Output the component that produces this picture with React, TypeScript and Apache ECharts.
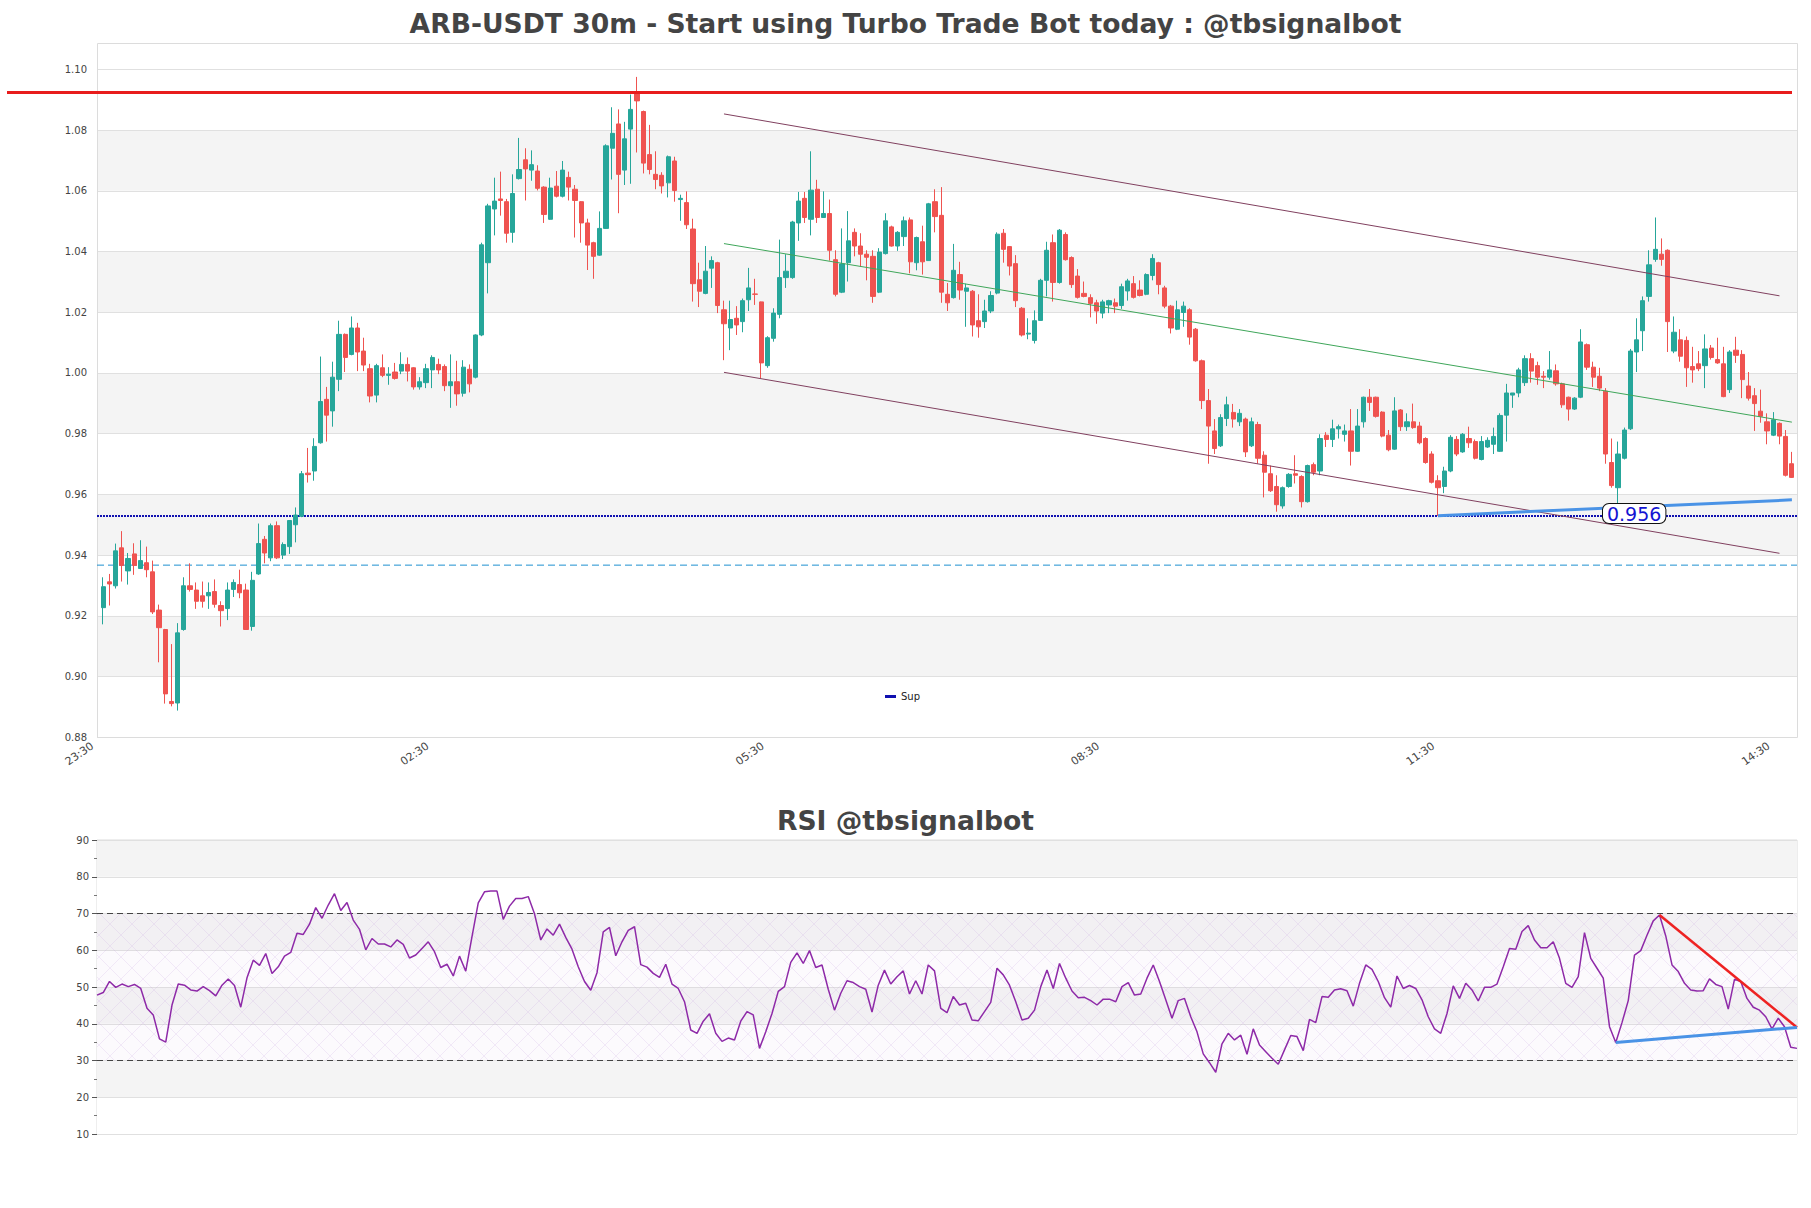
import React, { useEffect, useRef } from 'react';
import * as echarts from 'echarts';

// ---------- DATA ----------
const opens = [
  0.9227, 0.9312, 0.9299, 0.9424, 0.9348, 0.9404, 0.9356, 0.9375, 0.9345, 0.9219,
  0.9155, 0.8918, 0.8913, 0.9155, 0.9299, 0.9285, 0.9266, 0.9266, 0.9280, 0.9234,
  0.9224, 0.9287, 0.9303, 0.9285, 0.9165, 0.9338, 0.9452, 0.9391, 0.9497, 0.9400,
  0.9428, 0.9500, 0.9528, 0.9670, 0.9677, 0.9770, 0.9913, 0.9875, 0.9979, 1.0127,
  1.0061, 1.0148, 1.0072, 1.0014, 0.9927, 1.0017, 0.9992, 1.0003, 1.0006, 1.0028,
  1.0017, 0.9954, 0.9968, 1.0010, 1.0028, 1.0021, 0.9958, 0.9971, 0.9933, 1.0012,
  0.9986, 1.0125, 1.0363, 1.0540, 1.0573, 1.0564, 1.0463, 1.0640, 1.0702, 1.0668,
  1.0665, 1.0612, 1.0506, 1.0615, 1.0582, 1.0644, 1.0605, 1.0564, 1.0494, 1.0429,
  1.0388, 1.0476, 1.0740, 1.0820, 1.0668, 1.0803, 1.0920, 1.0861, 1.0719, 1.0654,
  1.0651, 1.0626, 1.0698, 1.0571, 1.0561, 1.0474, 1.0307, 1.0262, 1.0345, 1.0363,
  1.0208, 1.0148, 1.0180, 1.0169, 1.0241, 1.0260, 1.0234, 1.0024, 1.0114, 1.0193,
  1.0314, 1.0314, 1.0494, 1.0575, 1.0506, 1.0605, 1.0512, 1.0525, 1.0373, 1.0266,
  1.0363, 1.0463, 1.0418, 1.0391, 1.0384, 1.0266, 1.0393, 1.0481, 1.0418, 1.0449,
  1.0504, 1.0363, 1.0432, 1.0370, 1.0564, 1.0519, 1.0259, 1.0248, 1.0324, 1.0269,
  1.0269, 1.0172, 1.0169, 1.0204, 1.0263, 1.0460, 1.0416, 1.0360, 1.0213, 1.0128,
  1.0107, 1.0173, 1.0305, 1.0429, 1.0298, 1.0456, 1.0380, 1.0319, 1.0262, 1.0248,
  1.0231, 1.0197, 1.0224, 1.0231, 1.0222, 1.0270, 1.0294, 1.0273, 1.0259, 1.0321,
  1.0363, 1.0280, 1.0220, 1.0144, 1.0199, 1.0208, 1.0144, 1.0040, 0.9909, 0.9809,
  0.9760, 0.9850, 0.9870, 0.9839, 0.9848, 0.9760, 0.9830, 0.9729, 0.9668, 0.9626,
  0.9562, 0.9626, 0.9668, 0.9659, 0.9576, 0.9698, 0.9677, 0.9795, 0.9781, 0.9816,
  0.9798, 0.9809, 0.9742, 0.9839, 0.9920, 0.9920, 0.9871, 0.9795, 0.9749, 0.9878,
  0.9823, 0.9839, 0.9825, 0.9784, 0.9733, 0.9645, 0.9626, 0.9677, 0.9781, 0.9740,
  0.9784, 0.9774, 0.9715, 0.9756, 0.9765, 0.9742, 0.9861, 0.9927, 0.9934, 0.9968,
  1.0047, 1.0024, 0.9989, 0.9986, 1.0007, 0.9964, 0.9920, 0.9881, 0.9920, 1.0093,
  1.0019, 0.9989, 0.9940, 0.9705, 0.9622, 0.9719, 0.9816, 1.0069, 1.0139, 1.0252,
  1.0374, 1.0391, 1.0404, 1.0072, 1.0109, 1.0107, 1.0021, 1.0030, 1.0024, 1.0082,
  1.0044, 1.0030, 0.9945, 1.0075, 1.0061, 0.9957, 0.9925, 0.9874, 0.9839, 0.9795,
  0.9834, 0.9791, 0.9701,
];
const closes = [
  0.9296, 0.9305, 0.9414, 0.9366, 0.9389, 0.9366, 0.9382, 0.9352, 0.9213, 0.9161,
  0.8943, 0.8911, 0.9144, 0.9299, 0.9287, 0.9248, 0.9248, 0.9277, 0.9238, 0.9217,
  0.9285, 0.9310, 0.9276, 0.9155, 0.9317, 0.9438, 0.9407, 0.9497, 0.9391, 0.9435,
  0.9514, 0.9532, 0.9668, 0.9665, 0.9758, 0.9906, 0.9861, 0.9986, 1.0127, 1.0051,
  1.0148, 1.0069, 1.0026, 0.9924, 1.0024, 0.9992, 0.9996, 0.9982, 1.0028, 1.0006,
  0.9954, 0.9971, 1.0014, 1.0051, 1.0010, 0.9958, 0.9971, 0.9931, 1.0019, 0.9964,
  1.0125, 1.0422, 1.0550, 1.0566, 1.0568, 1.0460, 1.0591, 1.0670, 1.0672, 1.0686,
  1.0608, 1.0522, 1.0609, 1.0582, 1.0668, 1.0612, 1.0568, 1.0494, 1.0421, 1.0384,
  1.0476, 1.0748, 1.0789, 1.0654, 1.0771, 1.0868, 1.0896, 1.0691, 1.0670, 1.0637,
  1.0616, 1.0712, 1.0601, 1.0575, 1.0488, 1.0294, 1.0269, 1.0335, 1.0370, 1.0222,
  1.0162, 1.0176, 1.0158, 1.0238, 1.0280, 1.0259, 1.0033, 1.0116, 1.0197, 1.0314,
  1.0335, 1.0497, 1.0566, 1.0512, 1.0602, 1.0512, 1.0525, 1.0404, 1.0259, 1.0359,
  1.0435, 1.0418, 1.0391, 1.0381, 1.0252, 1.0398, 1.0501, 1.0418, 1.0463, 1.0501,
  1.0366, 1.0446, 1.0366, 1.0557, 1.0515, 1.0266, 1.0231, 1.0338, 1.0273, 1.0280,
  1.0158, 1.0152, 1.0204, 1.0255, 1.0457, 1.0407, 1.0352, 1.0238, 1.0125, 1.0131,
  1.0172, 1.0305, 1.0404, 1.0298, 1.0470, 1.0373, 1.0291, 1.0249, 1.0252, 1.0229,
  1.0204, 1.0234, 1.0238, 1.0220, 1.0284, 1.0303, 1.0249, 1.0255, 1.0324, 1.0377,
  1.0291, 1.0220, 1.0148, 1.0208, 1.0220, 1.0118, 1.0040, 0.9909, 0.9825, 0.9751,
  0.9853, 0.9895, 0.9848, 0.9867, 0.9740, 0.9839, 0.9719, 0.9673, 0.9612, 0.9566,
  0.9622, 0.9666, 0.9663, 0.9576, 0.9695, 0.9673, 0.9784, 0.9781, 0.9816, 0.9823,
  0.9809, 0.9742, 0.9825, 0.9920, 0.9903, 0.9857, 0.9792, 0.9747, 0.9875, 0.9823,
  0.9839, 0.9820, 0.9770, 0.9705, 0.9640, 0.9622, 0.9677, 0.9788, 0.9733, 0.9798,
  0.9770, 0.9719, 0.9774, 0.9778, 0.9791, 0.9860, 0.9934, 0.9934, 1.0010, 1.0047,
  1.0006, 0.9986, 0.9986, 1.0010, 0.9964, 0.9895, 0.9881, 0.9917, 1.0102, 1.0019,
  0.9986, 0.9950, 0.9733, 0.9629, 0.9733, 0.9812, 1.0072, 1.0109, 1.0238, 1.0356,
  1.0407, 1.0374, 1.0169, 1.0134, 1.0055, 1.0017, 1.0010, 1.0014, 1.0079, 1.0051,
  1.0033, 0.9922, 1.0069, 1.0058, 0.9978, 0.9917, 0.9899, 0.9857, 0.9809, 0.9846,
  0.9792, 0.9663, 0.9656,
];
const lows = [
  0.9172, 0.9234, 0.9290, 0.9313, 0.9303, 0.9335, 0.9355, 0.9327, 0.9206, 0.9047,
  0.8911, 0.8902, 0.8888, 0.9151, 0.9280, 0.9223, 0.9227, 0.9223, 0.9227, 0.9165,
  0.9186, 0.9262, 0.9258, 0.9155, 0.9151, 0.9335, 0.9373, 0.9380, 0.9387, 0.9387,
  0.9404, 0.9442, 0.9525, 0.9639, 0.9645, 0.9767, 0.9774, 0.9823, 0.9940, 1.0003,
  1.0058, 1.0006, 1.0006, 0.9903, 0.9903, 0.9986, 0.9961, 0.9978, 0.9996, 0.9972,
  0.9945, 0.9945, 0.9950, 0.9950, 0.9996, 0.9940, 0.9885, 0.9892, 0.9922, 0.9936,
  0.9982, 1.0121, 1.0262, 1.0453, 1.0518, 1.0429, 1.0429, 1.0637, 1.0568, 1.0633,
  1.0601, 1.0494, 1.0504, 1.0578, 1.0578, 1.0568, 1.0446, 1.0429, 1.0339, 1.0310,
  1.0386, 1.0474, 1.0637, 1.0526, 1.0619, 1.0623, 1.0726, 1.0657, 1.0654, 1.0605,
  1.0591, 1.0578, 1.0564, 1.0501, 1.0474, 1.0235, 1.0217, 1.0259, 1.0280, 1.0197,
  1.0042, 1.0075, 1.0125, 1.0134, 1.0204, 1.0224, 0.9982, 1.0017, 1.0103, 1.0180,
  1.0280, 1.0310, 1.0435, 1.0494, 1.0453, 1.0494, 1.0512, 1.0370, 1.0252, 1.0263,
  1.0301, 1.0384, 1.0349, 1.0305, 1.0231, 1.0263, 1.0390, 1.0416, 1.0402, 1.0418,
  1.0328, 1.0338, 1.0324, 1.0370, 1.0463, 1.0231, 1.0204, 1.0245, 1.0241, 1.0152,
  1.0120, 1.0116, 1.0148, 1.0197, 1.0259, 1.0363, 1.0321, 1.0217, 1.0120, 1.0111,
  1.0097, 1.0172, 1.0252, 1.0235, 1.0294, 1.0370, 1.0280, 1.0245, 1.0249, 1.0183,
  1.0162, 1.0180, 1.0197, 1.0197, 1.0211, 1.0238, 1.0245, 1.0252, 1.0256, 1.0305,
  1.0259, 1.0213, 1.0130, 1.0141, 1.0152, 1.0093, 1.0037, 0.9881, 0.9701, 0.9733,
  0.9756, 0.9825, 0.9820, 0.9825, 0.9723, 0.9756, 0.9701, 0.9590, 0.9608, 0.9543,
  0.9553, 0.9622, 0.9636, 0.9557, 0.9573, 0.9663, 0.9663, 0.9756, 0.9756, 0.9784,
  0.9774, 0.9695, 0.9740, 0.9820, 0.9875, 0.9853, 0.9788, 0.9742, 0.9747, 0.9809,
  0.9809, 0.9816, 0.9765, 0.9701, 0.9636, 0.9529, 0.9604, 0.9673, 0.9726, 0.9737,
  0.9753, 0.9715, 0.9712, 0.9753, 0.9733, 0.9740, 0.9774, 0.9885, 0.9920, 0.9957,
  0.9968, 0.9961, 0.9950, 0.9978, 0.9958, 0.9885, 0.9843, 0.9878, 0.9917, 1.0010,
  0.9954, 0.9940, 0.9701, 0.9622, 0.9566, 0.9715, 0.9812, 1.0003, 1.0072, 1.0235,
  1.0366, 1.0353, 1.0069, 1.0065, 1.0037, 0.9954, 0.9968, 1.0006, 0.9950, 1.0044,
  1.0030, 0.9920, 0.9934, 1.0033, 0.9917, 0.9909, 0.9809, 0.9836, 0.9765, 0.9792,
  0.9765, 0.9659, 0.9654,
];
const highs = [
  0.9327, 0.9338, 0.9438, 0.9479, 0.9407, 0.9439, 0.9449, 0.9428, 0.9382, 0.9237,
  0.9157, 0.9107, 0.9176, 0.9327, 0.9373, 0.9310, 0.9313, 0.9310, 0.9320, 0.9248,
  0.9310, 0.9320, 0.9352, 0.9306, 0.9345, 0.9504, 0.9463, 0.9504, 0.9511, 0.9442,
  0.9514, 0.9557, 0.9677, 0.9753, 0.9785, 1.0054, 0.9954, 1.0037, 1.0172, 1.0130,
  1.0186, 1.0165, 1.0116, 1.0030, 1.0030, 1.0061, 1.0019, 1.0033, 1.0068, 1.0051,
  1.0019, 0.9986, 1.0030, 1.0058, 1.0047, 1.0028, 1.0061, 1.0040, 1.0042, 1.0028,
  1.0127, 1.0429, 1.0557, 1.0643, 1.0663, 1.0573, 1.0654, 1.0774, 1.0740, 1.0733,
  1.0684, 1.0615, 1.0643, 1.0665, 1.0698, 1.0663, 1.0619, 1.0566, 1.0508, 1.0432,
  1.0532, 1.0753, 1.0875, 1.0868, 1.0827, 1.0917, 1.0975, 1.0864, 1.0817, 1.0730,
  1.0661, 1.0716, 1.0712, 1.0587, 1.0598, 1.0508, 1.0363, 1.0418, 1.0384, 1.0366,
  1.0238, 1.0238, 1.0220, 1.0245, 1.0346, 1.0310, 1.0235, 1.0121, 1.0213, 1.0439,
  1.0391, 1.0501, 1.0596, 1.0596, 1.0730, 1.0636, 1.0598, 1.0571, 1.0404, 1.0476,
  1.0533, 1.0476, 1.0460, 1.0404, 1.0404, 1.0411, 1.0526, 1.0485, 1.0467, 1.0515,
  1.0512, 1.0449, 1.0485, 1.0560, 1.0605, 1.0612, 1.0296, 1.0425, 1.0366, 1.0294,
  1.0273, 1.0259, 1.0241, 1.0269, 1.0463, 1.0474, 1.0418, 1.0388, 1.0217, 1.0180,
  1.0206, 1.0310, 1.0432, 1.0456, 1.0474, 1.0463, 1.0384, 1.0342, 1.0301, 1.0259,
  1.0241, 1.0241, 1.0241, 1.0245, 1.0294, 1.0310, 1.0319, 1.0305, 1.0328, 1.0391,
  1.0366, 1.0287, 1.0224, 1.0238, 1.0235, 1.0213, 1.0148, 1.0044, 0.9947, 0.9848,
  0.9864, 0.9922, 0.9898, 0.9881, 0.9853, 0.9853, 0.9839, 0.9742, 0.9695, 0.9663,
  0.9626, 0.9670, 0.9729, 0.9663, 0.9698, 0.9705, 0.9798, 0.9805, 0.9846, 0.9830,
  0.9830, 0.9881, 0.9881, 0.9922, 0.9947, 0.9922, 0.9874, 0.9812, 0.9920, 0.9881,
  0.9867, 0.9899, 0.9839, 0.9788, 0.9742, 0.9663, 0.9691, 0.9795, 0.9792, 0.9802,
  0.9823, 0.9781, 0.9792, 0.9788, 0.9820, 0.9867, 0.9964, 0.9934, 1.0017, 1.0058,
  1.0065, 1.0037, 1.0006, 1.0072, 1.0028, 0.9968, 0.9922, 0.9920, 1.0144, 1.0097,
  1.0037, 1.0017, 0.9950, 0.9784, 0.9774, 0.9820, 1.0079, 1.0180, 1.0252, 1.0404,
  1.0512, 1.0443, 1.0407, 1.0186, 1.0144, 1.0120, 1.0086, 1.0072, 1.0127, 1.0092,
  1.0116, 1.0086, 1.0075, 1.0119, 1.0075, 1.0003, 0.9950, 0.9945, 0.9867, 0.9871,
  0.9837, 0.9812, 0.9740,
];

const rsiValues = [
  47.8, 48.5, 51.5, 49.9, 50.8, 50.1, 50.7, 49.6, 44.2, 42.4,
  35.9, 35.0, 45.1, 50.8, 50.5, 49.2, 48.9, 50.1, 49.0, 47.6,
  50.5, 52.2, 50.4, 44.5, 52.5, 57.3, 55.9, 59.1, 53.7, 55.5,
  58.4, 59.4, 64.6, 64.3, 67.1, 71.6, 68.7, 72.3, 75.4, 70.8,
  73.0, 68.2, 65.7, 60.1, 63.2, 61.7, 61.7, 60.9, 62.8, 61.6,
  57.9, 58.7, 60.5, 62.3, 59.6, 55.3, 56.2, 53.0, 58.4, 54.3,
  63.7, 72.9, 75.9, 76.1, 76.1, 68.4, 72.0, 74.1, 74.1, 74.6,
  69.9, 62.8, 65.8, 64.1, 67.1, 63.5, 60.3, 55.5, 51.5, 49.1,
  53.9, 65.0, 66.2, 58.5, 62.3, 65.4, 66.4, 56.1, 55.4, 53.7,
  52.6, 56.2, 50.8, 49.6, 46.0, 38.3, 37.4, 40.7, 42.7, 37.4,
  35.2, 36.1, 35.6, 40.7, 43.3, 42.4, 33.3, 37.8, 42.8, 48.8,
  50.1, 56.7, 59.3, 56.4, 59.9, 55.3, 56.0, 49.4, 43.7, 48.3,
  51.7, 51.2, 50.1, 49.4, 43.2, 50.5, 54.6, 50.8, 52.8, 54.4,
  48.1, 51.7, 48.1, 56.0, 54.4, 44.2, 43.0, 47.4, 45.1,
  45.6, 41.0, 40.8, 43.3, 45.8, 55.1, 53.3, 50.5, 46.0, 41.0,
  41.5, 43.7, 50.1, 54.6, 49.6, 56.4, 52.4, 48.9, 47.1, 47.2,
  46.3, 45.1, 46.7, 46.7, 46.0, 50.1, 51.2, 47.8, 48.1, 52.4,
  56.0, 51.5, 46.5, 41.5, 46.3, 46.9, 41.9, 37.8, 31.8, 29.4,
  26.8, 34.5, 37.4, 35.6, 36.9, 31.7, 38.6, 34.2, 32.4, 30.6,
  29.0, 32.9, 36.8, 36.5, 32.7, 41.2, 40.3, 47.4, 47.2, 49.2,
  49.5, 49.0, 44.8, 51.0, 56.0, 54.8, 51.5, 47.1, 44.5, 53.0,
  49.6, 50.4, 49.6, 46.5, 41.9, 38.6, 37.4, 42.8, 50.3, 46.9,
  51.0, 49.2, 46.2, 49.9, 49.9, 50.8, 55.5, 60.5, 60.3, 65.1,
  66.7, 62.8, 60.7, 60.7, 62.3, 57.8, 51.0, 49.9, 52.8, 64.8,
  57.8, 55.1, 52.4, 39.2, 34.9, 40.3, 46.3, 58.7, 59.9, 64.1,
  68.0, 69.6, 63.9, 56.0, 54.2, 51.0, 49.2, 48.9, 49.0, 52.2,
  50.7, 50.1, 44.0, 52.1, 51.5, 46.9, 44.5, 43.7, 41.9, 38.6,
  41.5, 39.2, 33.6, 33.3,
];

const timeTickLabels = ['23:30', '02:30', '05:30', '08:30', '11:30', '14:30'];
const candlesPerTick = 54;

const resistanceLevel = 1.0924;
const supLevel = 0.9529;
const dashLevel = 0.9367;
const channelUpper = [[100, 1.0853], [270, 1.0254]];
const channelLower = [[100, 1.0002], [270, 0.9406]];
const channelMid = [[100, 1.0426], [272, 0.9838]];
const supportTrend = [[215, 0.9530], [272, 0.9582]];
const supportLabelPos = [246.6, 0.9537];
const supportLabelText = '0.956';
const rsiDownTrend = [[250, 69.6], [272, 39.0]];
const rsiUpTrend = [[243, 34.9], [272, 39.0]];
const rsiBands = [30, 70];

const priceTicks = { min: 0.88, max: 1.10, step: 0.02 };
const rsiTicks = { min: 10, max: 90, step: 10 };

const FONT = 'DejaVu Sans';

function makeHatch(): HTMLCanvasElement {
  const c = document.createElement('canvas');
  c.width = 22;
  c.height = 22;
  const g = c.getContext('2d') as CanvasRenderingContext2D;
  g.fillStyle = 'rgba(210,190,230,0.07)';
  g.fillRect(0, 0, 22, 22);
  g.strokeStyle = 'rgba(190,150,215,0.30)';
  g.lineWidth = 0.6;
  g.beginPath();
  g.moveTo(0, 0);
  g.lineTo(22, 22);
  g.moveTo(22, 0);
  g.lineTo(0, 22);
  g.stroke();
  return c;
}

export default function App() {
  const ref = useRef<HTMLDivElement>(null);

  useEffect(() => {
    document.body.style.margin = '0';
    if (!ref.current) return;
    const chart = echarts.init(ref.current, undefined, { renderer: 'svg' });

    const candleData = opens.map((o, i) => [o, closes[i], lows[i], highs[i]]);
    const cats = opens.map((_, i) => String(i));
    const rsiCats = rsiValues.map((_, i) => String(i));

    const mainTop = 69.3;
    const mainHeight = 668;
    const rsiTop = 840;
    const rsiHeight = 294;

    const option: any = {
      animation: false,
      backgroundColor: '#ffffff',
      textStyle: { fontFamily: FONT },
      title: [
        {
          text: 'ARB-USDT 30m - Start using Turbo Trade Bot today : @tbsignalbot',
          left: 'center',
          top: 5,
          textStyle: { fontFamily: FONT, fontSize: 26.6, fontWeight: 'bold', color: '#444444' },
        },
        {
          text: 'RSI @tbsignalbot',
          left: 'center',
          top: 802,
          textStyle: { fontFamily: FONT, fontSize: 26.6, fontWeight: 'bold', color: '#444444' },
        },
      ],
      legend: {
        data: ['Sup'],
        left: 880,
        top: 686.5,
        itemWidth: 11,
        itemHeight: 3,
        itemGap: 10,
        icon: 'rect',
        textStyle: { fontSize: 10, color: '#222', fontFamily: FONT },
      },
      grid: [
        { left: 97, top: mainTop, width: 1700, height: mainHeight, show: false },
        { left: 100, top: mainTop, width: 1695, height: mainHeight, show: false },
        { left: 97, top: rsiTop, width: 1700, height: rsiHeight, show: true, borderColor: '#dcdcdc', borderWidth: 1, backgroundColor: 'transparent' },
      ],
      xAxis: [
        { type: 'value', gridIndex: 0, min: 0, max: 1, show: false },
        {
          type: 'category',
          gridIndex: 1,
          data: cats,
          boundaryGap: true,
          axisLine: { show: false },
          axisTick: { show: false },
          splitLine: { show: false },
          axisLabel: {
            interval: candlesPerTick - 1,
            rotate: 35,
            fontSize: 11,
            color: '#444',
            margin: 0,
            padding: [0, 13, 0, 0],
            fontFamily: FONT,
            formatter: (_v: string, idx: number) => timeTickLabels[Math.round(idx / candlesPerTick)] || '',
          },
        },
        {
          type: 'category',
          gridIndex: 2,
          data: rsiCats,
          boundaryGap: false,
          axisLine: { show: false },
          axisTick: { show: false },
          axisLabel: { show: false },
          splitLine: { show: false },
        },
      ],
      yAxis: [
        {
          type: 'value',
          gridIndex: 0,
          min: priceTicks.min,
          max: priceTicks.max,
          interval: priceTicks.step,
          axisLine: { show: false },
          axisTick: { show: false },
          axisLabel: { fontSize: 10, color: '#444', margin: 10, fontFamily: FONT, formatter: (v: number) => v.toFixed(2) },
          splitLine: { show: true, lineStyle: { color: '#e0e0e0', width: 1 } },
          splitArea: { show: true, areaStyle: { color: ['#ffffff', '#f4f4f4'] } },
        },
        {
          type: 'value',
          gridIndex: 1,
          min: priceTicks.min,
          max: priceTicks.max,
          show: false,
          splitLine: { show: false },
        },
        {
          type: 'value',
          gridIndex: 2,
          min: rsiTicks.min,
          max: rsiTicks.max,
          interval: rsiTicks.step,
          axisLine: { show: false },
          axisTick: { show: true, length: 5, lineStyle: { color: '#555' } },
          minorTick: { show: true, splitNumber: 2, length: 3, lineStyle: { color: '#777' } },
          axisLabel: { fontSize: 10, color: '#444', margin: 8, fontFamily: FONT },
          splitLine: { show: true, lineStyle: { color: '#e0e0e0', width: 1 } },
          splitArea: { show: true, areaStyle: { color: ['#ffffff', '#f4f4f4'] } },
        },
      ],
      series: [
        {
          name: 'Sup',
          type: 'line',
          xAxisIndex: 0,
          yAxisIndex: 0,
          data: [[0, supLevel], [1, supLevel]],
          symbol: 'none',
          color: '#1010b0',
          lineStyle: { color: '#1010b0', width: 2, type: [2, 1] },
          z: 3,
        },
        {
          name: 'dashLevel',
          type: 'line',
          xAxisIndex: 0,
          yAxisIndex: 0,
          data: [[0, dashLevel], [1, dashLevel]],
          symbol: 'none',
          lineStyle: { color: '#1e90d0', width: 1, type: [7, 4] },
          z: 3,
        },
        {
          name: 'ohlc',
          type: 'candlestick',
          xAxisIndex: 1,
          yAxisIndex: 1,
          data: candleData,
          barWidth: 4.7,
          itemStyle: {
            color: '#26a69a',
            color0: '#ef5350',
            borderColor: '#26a69a',
            borderColor0: '#ef5350',
            borderWidth: 1,
          },
          z: 4,
        },
        {
          name: 'upper',
          type: 'line',
          xAxisIndex: 1,
          yAxisIndex: 1,
          data: channelUpper,
          symbol: 'none',
          lineStyle: { color: '#80405f', width: 1 },
          z: 5,
        },
        {
          name: 'lower',
          type: 'line',
          xAxisIndex: 1,
          yAxisIndex: 1,
          data: channelLower,
          symbol: 'none',
          lineStyle: { color: '#80405f', width: 1 },
          z: 5,
        },
        {
          name: 'mid',
          type: 'line',
          xAxisIndex: 1,
          yAxisIndex: 1,
          data: channelMid,
          symbol: 'none',
          lineStyle: { color: '#3fa65a', width: 1 },
          z: 5,
        },
        {
          name: 'supTrend',
          type: 'line',
          xAxisIndex: 1,
          yAxisIndex: 1,
          data: supportTrend,
          symbol: 'none',
          lineStyle: { color: '#4a93e6', width: 3 },
          z: 5,
        },
        {
          name: 'RSI',
          type: 'line',
          xAxisIndex: 2,
          yAxisIndex: 2,
          data: rsiValues,
          symbol: 'none',
          lineStyle: { color: '#8e2aa8', width: 1.5 },
          z: 5,
          markArea: {
            silent: true,
            itemStyle: { color: { image: makeHatch(), repeat: 'repeat' } },
            data: [[{ yAxis: rsiBands[0] }, { yAxis: rsiBands[1] }]],
          },
          markLine: {
            silent: true,
            symbol: 'none',
            label: { show: false },
            lineStyle: { color: '#444', width: 1.2, type: [6, 4] },
            data: [{ yAxis: rsiBands[1] }, { yAxis: rsiBands[0] }],
          },
        },
        {
          name: 'rsiDown',
          type: 'line',
          xAxisIndex: 2,
          yAxisIndex: 2,
          data: rsiDownTrend,
          symbol: 'none',
          lineStyle: { color: '#ee2222', width: 2.5 },
          z: 6,
        },
        {
          name: 'rsiUp',
          type: 'line',
          xAxisIndex: 2,
          yAxisIndex: 2,
          data: rsiUpTrend,
          symbol: 'none',
          lineStyle: { color: '#4a93e6', width: 3 },
          z: 6,
        },
      ],
    };

    chart.setOption(option);

    const yRes = chart.convertToPixel({ yAxisIndex: 0 }, resistanceLevel) as number;
    // label position: interpolate between neighbouring categories through the axis scale
    const i0 = Math.floor(supportLabelPos[0]);
    const frac = supportLabelPos[0] - i0;
    const pA = chart.convertToPixel({ xAxisIndex: 1, yAxisIndex: 1 }, [i0, supportLabelPos[1]]) as number[];
    const pB = chart.convertToPixel({ xAxisIndex: 1, yAxisIndex: 1 }, [i0 + 1, supportLabelPos[1]]) as number[];
    const lblX = pA[0] + (pB[0] - pA[0]) * frac;
    const lblY = pA[1];

    chart.setOption({
      graphic: [
        {
          type: 'rect',
          silent: true,
          z: 1,
          shape: { x: 97.5, y: 43.5, width: 1700, height: 694 },
          style: { fill: 'none', stroke: '#dcdcdc', lineWidth: 1 },
        },
        {
          type: 'line',
          silent: true,
          z: 10,
          shape: { x1: 7, y1: yRes, x2: 1792, y2: yRes },
          style: { stroke: '#e81c1c', lineWidth: 3 },
        },
        {
          type: 'text',
          silent: true,
          z: 11,
          x: lblX,
          y: lblY,
          style: {
            text: supportLabelText,
            fill: '#1414d2',
            font: `19px ${FONT}`,
            align: 'center',
            verticalAlign: 'middle',
            backgroundColor: '#ffffff',
            borderColor: '#111',
            borderWidth: 1,
            borderRadius: 6,
            padding: [0, 4, 0, 4],
          },
        },
      ],
    });

    return () => {
      chart.dispose();
    };
  }, []);

  return <div ref={ref} style={{ position: 'absolute', left: 0, top: 0, width: 1811, height: 1208 }} />;
}
